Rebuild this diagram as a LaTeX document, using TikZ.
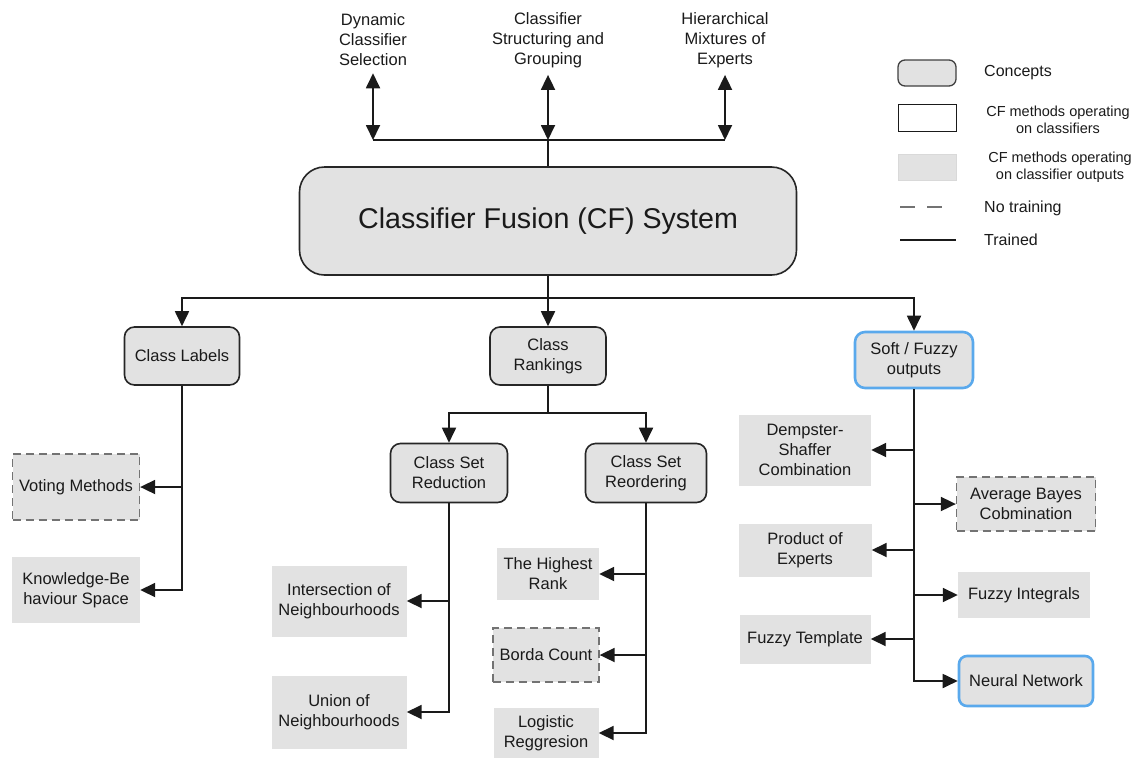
\documentclass[tikz,border=0pt]{standalone}
\usepackage{fontspec}
\setmainfont{Liberation Sans}
\usetikzlibrary{arrows.meta}
\definecolor{boxgray}{HTML}{E2E2E2}
\definecolor{bluebd}{HTML}{5AA9EC}
\definecolor{ink}{HTML}{1A1A1A}
\tikzset{
  txt/.style={font=\fontsize{16.5}{20}\selectfont, text=ink, align=center, inner sep=0pt},
  small/.style={font=\fontsize{14.5}{17}\selectfont, text=ink, align=center, inner sep=0pt},
  concept/.style={txt, draw=black!85, line width=1.6pt, fill=boxgray, rounded corners=10pt},
  method/.style={txt, fill=boxgray},
  untrained/.style={method, draw=black!55, dash pattern=on 8pt off 5pt, line width=1.3pt},
  soft/.style={concept, draw=bluebd, line width=2.6pt},
  arr/.style={draw=ink, line width=1.8pt, -{Triangle[length=15pt,width=14pt]}},
  darr/.style={draw=ink, line width=1.8pt, {Triangle[length=15pt,width=14pt]}-{Triangle[length=15pt,width=14pt]}},
  ln/.style={draw=ink, line width=1.8pt},
}
\begin{document}
\begin{tikzpicture}[x=1pt,y=-1pt]
\useasboundingbox (0,0) rectangle (1139,758);

% top concepts
\node[txt] (dcs) at (373,40) {Dynamic\\Classifier\\Selection};
\node[txt] (csg) at (548,40) {Classifier\\Structuring and\\Grouping};
\node[txt] (hme) at (725,40) {Hierarchical\\Mixtures of\\Experts};
\coordinate (hb) at (548,140);

% main system
\node[concept, rounded corners=25pt, minimum width=497pt, minimum height=108pt,
      font=\fontsize{28.6}{32}\selectfont] (cf) at (548,221) {Classifier Fusion (CF) System};

\draw[ln] (dcs.south |- hb) -- (hme.south |- hb);
\draw[ln] (cf.north) -- (cf.north |- hb);
\draw[darr, shorten <=7pt] (dcs.south) -- (dcs.south |- hb);
\draw[darr, shorten <=7pt] (csg.south) -- (csg.south |- hb);
\draw[darr, shorten <=7pt] (hme.south) -- (hme.south |- hb);

% second level
\node[concept, minimum width=115pt, minimum height=58pt] (cl) at (182,356) {Class Labels};
\node[concept, minimum width=116pt, minimum height=58pt] (cr) at (548,356) {Class\\Rankings};
\node[soft, minimum width=118pt, minimum height=56pt] (sf) at (914,360) {Soft / Fuzzy\\outputs};
\coordinate (hb2) at (548,298);
\draw[ln] (cf.south) -- (cf.south |- hb2);
\draw[arr] (cf.south |- hb2) -| (cl.north);
\draw[arr] (cf.south |- hb2) -| (sf.north);
\draw[arr] (cf.south |- hb2) -- (cr.north);

% class labels branch
\node[untrained, minimum width=127pt, minimum height=66pt] (vm) at (76,487) {Voting Methods};
\node[method, minimum width=128pt, minimum height=66pt] (kbs) at (76,590) {Knowledge-Be\\haviour Space};
\draw[arr] (cl.south) |- (kbs.east);
\draw[arr] (cl.south |- vm.east) -- (vm.east);

% class rankings branch
\node[concept, minimum width=117pt, minimum height=59pt] (csr) at (449,473) {Class Set\\Reduction};
\node[concept, minimum width=121pt, minimum height=59pt] (cso) at (646,473) {Class Set\\Reordering};
\coordinate (hb3) at (548,413);
\draw[ln] (cr.south) -- (cr.south |- hb3);
\draw[arr] (cr.south |- hb3) -| (csr.north);
\draw[arr] (cr.south |- hb3) -| (cso.north);

\node[method, minimum width=135pt, minimum height=71pt] (inter) at (339,601) {Intersection of\\Neighbourhoods};
\node[method, minimum width=135pt, minimum height=73pt] (union) at (339,712) {Union of\\Neighbourhoods};
\draw[arr] (csr.south) |- (union.east);
\draw[arr] (csr.south |- inter.east) -- (inter.east);

\node[method, minimum width=102pt, minimum height=52pt] (hr) at (548,574) {The Highest\\Rank};
\node[untrained, minimum width=106pt, minimum height=54pt] (bc) at (546,655) {Borda Count};
\node[method, minimum width=105pt, minimum height=50pt] (lr) at (546,733) {Logistic\\Reggresion};
\draw[arr] (cso.south) |- (lr.east);
\draw[arr] (cso.south |- hr.east) -- (hr.east);
\draw[arr] (cso.south |- bc.east) -- (bc.east);

% soft outputs branch
\node[method, minimum width=132pt, minimum height=71pt] (ds) at (805,450) {Dempster-\\Shaffer\\Combination};
\node[untrained, minimum width=139pt, minimum height=54pt] (ab) at (1026,504) {Average Bayes\\Cobmination};
\node[method, minimum width=133pt, minimum height=53pt] (pe) at (805,550) {Product of\\Experts};
\node[method, minimum width=132pt, minimum height=46pt] (fi) at (1024,595) {Fuzzy Integrals};
\node[method, minimum width=131pt, minimum height=49pt] (ft) at (805,639) {Fuzzy Template};
\node[soft, rounded corners=8pt, minimum width=134pt, minimum height=50pt] (nn) at (1026,681) {Neural Network};
\draw[arr] (sf.south) |- (nn.west);
\draw[arr] (sf.south |- ds.east) -- (ds.east);
\draw[arr] (sf.south |- ab.west) -- (ab.west);
\draw[arr] (sf.south |- pe.east) -- (pe.east);
\draw[arr] (sf.south |- fi.west) -- (fi.west);
\draw[arr] (sf.south |- ft.east) -- (ft.east);

% legend
\node[draw=black!75, line width=1.3pt, fill=boxgray, rounded corners=7pt, minimum width=58pt, minimum height=26pt, inner sep=0pt] (lg1) at (927,73) {};
\node[draw=ink, line width=1pt, fill=white, minimum width=58pt, minimum height=27pt, inner sep=0pt] (lg2) at (927,118) {};
\node[draw=black!15, line width=0.8pt, fill=boxgray, minimum width=58pt, minimum height=26pt, inner sep=0pt] (lg3) at (927,167) {};
\coordinate (lg4a) at (900,207);
\coordinate (lg4b) at (945,207);
\draw[draw=black!55, line width=1.3pt, dash pattern=on 15pt off 12pt] (lg4a) -- (lg4b);
\coordinate (lg5a) at (900,240);
\coordinate (lg5b) at (956,240);
\draw[draw=ink, line width=1.8pt] (lg5a) -- (lg5b);
\node[txt, anchor=west, font=\fontsize{16}{19}\selectfont] (t1) at (984,73) {Concepts};
\node[small] (t2) at (1058,120) {CF methods operating\\on classifiers};
\node[small] (t3) at (1060,167) {CF methods operating\\on classifier outputs};
\node[txt, anchor=west, font=\fontsize{16}{19}\selectfont] (t4) at (984,208) {No training};
\node[txt, anchor=west, font=\fontsize{16}{19}\selectfont] (t5) at (984,240) {Trained};
\end{tikzpicture}
\end{document}
